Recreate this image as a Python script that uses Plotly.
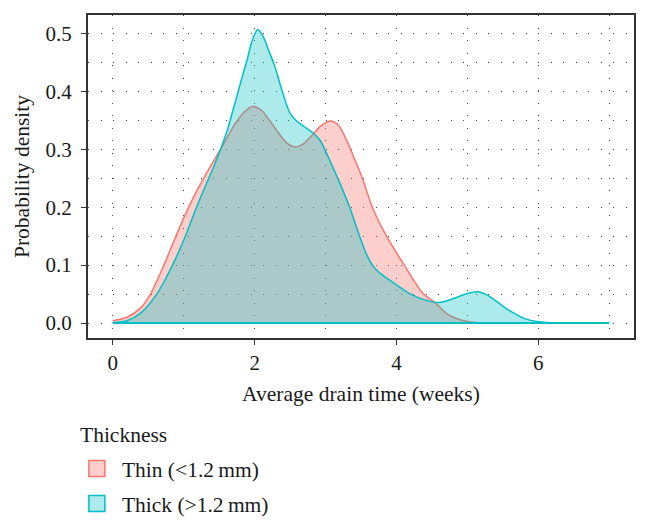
import plotly.graph_objects as go

# Thin (<1.2 mm) density curve
thin_x = [0, 0.2, 0.4, 0.53, 0.72, 0.89, 1.05, 1.2, 1.35, 1.5, 1.62, 1.73, 1.85, 1.975,
          2.1, 2.25, 2.4, 2.5, 2.58, 2.68, 2.8, 2.93, 3.07, 3.18, 3.3, 3.42, 3.52, 3.66, 3.86,
          4.11, 4.38, 4.53, 4.72, 4.95, 5.2]
thin_y = [0.004, 0.01, 0.027, 0.05, 0.10, 0.15, 0.195, 0.232, 0.265, 0.296, 0.322, 0.345, 0.364, 0.374,
          0.367, 0.343, 0.318, 0.307, 0.304, 0.309, 0.323, 0.340, 0.349, 0.342, 0.315, 0.28, 0.25, 0.20, 0.15,
          0.10, 0.05, 0.0367, 0.0155, 0.004, 0.0]

# Thick (>1.2 mm) density curve
thick_x = [0, 0.2, 0.4, 0.62, 0.76, 0.9, 1.03, 1.18, 1.3, 1.41, 1.52, 1.62, 1.7, 1.79, 1.895, 1.97, 2.045,
           2.12, 2.2, 2.28, 2.39, 2.5, 2.6, 2.7, 2.835, 2.92, 3.0, 3.1, 3.19, 3.34, 3.48, 3.58, 3.68,
           3.8, 4.0, 4.2, 4.4, 4.6, 4.8, 5.0, 5.15, 5.3, 5.56, 5.8, 6.0, 6.3, 7.0]
thick_y = [0.001, 0.004, 0.018, 0.05, 0.08, 0.115, 0.152, 0.20, 0.235, 0.266, 0.30, 0.335, 0.37, 0.41, 0.455, 0.49, 0.507,
           0.495, 0.47, 0.445, 0.40, 0.362, 0.348, 0.339, 0.327, 0.316, 0.297, 0.27, 0.245, 0.20, 0.15, 0.118, 0.097,
           0.083, 0.066, 0.05, 0.04, 0.0355, 0.042, 0.051, 0.054, 0.047, 0.024, 0.008, 0.002, 0.0, 0.0]

x_ticks = [0, 2, 4, 6]
y_ticks = [0.0, 0.1, 0.2, 0.3, 0.4, 0.5]

RED = "#F8766D"
CYAN = "#00BFC4"
RED_FILL = "rgba(248,118,109,0.35)"
CYAN_FILL = "rgba(0,191,196,0.32)"
FONT = "Liberation Serif"
TXT = "#1a1a1a"
tick_font = dict(family=FONT, size=21, color=TXT)
title_font = dict(family=FONT, size=21.5, color=TXT)
legend_font = dict(family=FONT, size=21.5, color=TXT)

fig = go.Figure()
fig.add_trace(go.Scatter(x=thin_x, y=thin_y, mode="lines",
                         line=dict(color=RED, width=1.5, shape="spline", smoothing=0.8),
                         fill="tozeroy", fillcolor=RED_FILL, showlegend=False, name="Thin"))
fig.add_trace(go.Scatter(x=[thin_x[0], thin_x[-1]], y=[0, 0], mode="lines", line=dict(color=RED, width=1.5),
                         showlegend=False, hoverinfo="skip"))
fig.add_trace(go.Scatter(x=thick_x, y=thick_y, mode="lines",
                         line=dict(color=CYAN, width=1.5, shape="spline", smoothing=0.8),
                         fill="tozeroy", fillcolor=CYAN_FILL, showlegend=False, name="Thick"))
fig.add_trace(go.Scatter(x=[thick_x[0], thick_x[-1]], y=[0, 0], mode="lines", line=dict(color=CYAN, width=2),
                         showlegend=False, hoverinfo="skip"))

# legend entries (square keys)
fig.add_trace(go.Scatter(x=[None], y=[None], mode="markers", name="Thin (<1.2\u2009mm)", legendgroup="a",
                         marker=dict(symbol="square", size=17, color=RED_FILL, line=dict(color=RED, width=1.5))))
fig.add_trace(go.Scatter(x=[None], y=[None], mode="markers", name="Thick (>1.2\u2009mm)", legendgroup="b",
                         marker=dict(symbol="square", size=17, color=CYAN_FILL, line=dict(color=CYAN, width=1.5))))

grid = dict(showgrid=True, gridcolor="#444444", gridwidth=1, griddash="1px,11.5px")

fig.update_layout(
    width=648, height=531,
    margin=dict(l=87.5, r=14, t=14.7, b=192.7, autoexpand=False),
    paper_bgcolor="white", plot_bgcolor="white",
    font=dict(family=FONT, size=21, color=TXT),
    showlegend=True,
    legend=dict(
        orientation="v", x=-0.0295, xanchor="left", y=-0.3405, yanchor="top",
        font=legend_font, tracegroupgap=4, itemwidth=40, bgcolor="rgba(0,0,0,0)",
    ),
    annotations=[dict(text="Thickness", xref="paper", yref="paper", x=-0.0174, y=-0.2988,
                      xanchor="left", yanchor="middle", showarrow=False, font=legend_font)],
    xaxis=dict(
        range=[-0.35, 7.35], tickvals=x_ticks, ticktext=[str(v) for v in x_ticks],
        tickfont=tick_font,
        ticks="outside", ticklen=5, tickcolor="#333", tickwidth=1,
        showline=True, mirror=True, linecolor="#333", linewidth=2,
        zeroline=False, automargin=False,
        title=dict(text="Average drain time (weeks)", standoff=12, font=title_font),
        minor=dict(dtick=1, tick0=0, ticks="", **grid),
        **grid,
    ),
    yaxis=dict(
        range=[-0.0259, 0.532], tickvals=y_ticks, ticktext=[f"{v:.1f}" for v in y_ticks],
        tickfont=tick_font,
        ticks="outside", ticklen=5, tickcolor="#333", tickwidth=1, ticklabelstandoff=5,
        showline=True, mirror=True, linecolor="#333", linewidth=2,
        zeroline=False, automargin=False,
        title=dict(text="Probability density", standoff=10, font=title_font),
        minor=dict(dtick=0.05, tick0=0, ticks="", **grid),
        **grid,
    ),
)

fig.write_html("out.html", config={"displayModeBar": False},
               post_script="document.body.style.margin='0';")
